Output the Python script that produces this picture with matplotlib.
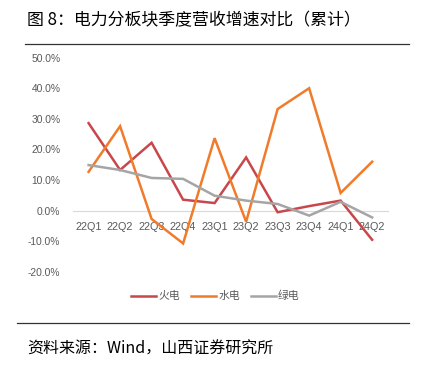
import matplotlib
matplotlib.use("Agg")
import matplotlib.pyplot as plt
from matplotlib.lines import Line2D

plt.rcParams['font.family'] = ['Noto Sans CJK SC', 'DejaVu Sans']

quarters = ["22Q1", "22Q2", "22Q3", "22Q4", "23Q1", "23Q2", "23Q3", "23Q4", "24Q1", "24Q2"]
thermal = [28.6, 13.3, 22.2, 3.6, 2.5, 17.4, -0.5, 1.5, 3.3, -9.5]
hydro = [12.7, 27.6, -2.7, -10.7, 23.7, -3.6, 33.2, 40.0, 5.8, 16.0]
green = [14.9, 13.3, 10.7, 10.4, 4.9, 3.3, 2.2, -1.6, 2.9, -2.2]
series_names = ["火电", "水电", "绿电"]
colors = ["#C8474B", "#F07B2B", "#A5A5A5"]
yticks = [-20, -10, 0, 10, 20, 30, 40, 50]

fig = plt.figure(figsize=(4.31, 3.67), dpi=100)
ax = fig.add_axes([0.169, 0.259, 0.731, 0.584])

for s in ['top', 'right', 'left']:
    ax.spines[s].set_visible(False)
ax.spines['bottom'].set_position(('data', 0))
ax.spines['bottom'].set_color('#D9D9D9')
ax.spines['bottom'].set_linewidth(0.8)
ax.spines['bottom'].set_zorder(0)

x = list(range(len(quarters)))
for vals, name, c in zip([thermal, hydro, green], series_names, colors):
    ax.plot(x, vals, color=c, lw=1.8, label=name, solid_joinstyle='miter')

tick_font = ['Liberation Sans', 'DejaVu Sans']
ax.set_xlim(-0.5, 9.5)
ax.set_ylim(-20, 50)
ax.set_yticks(yticks)
ax.set_yticklabels([f"{v:.1f}%" for v in yticks], color="#595959", fontsize=7.4, family=tick_font)
ax.tick_params(axis='y', length=0, pad=9)
ax.set_xticks(x)
ax.set_xticklabels(quarters, color="#595959", fontsize=7.8, family=tick_font)
ax.tick_params(axis='x', length=0, pad=8)

handles = [Line2D([0], [0], color=c, lw=1.8) for c in colors]
fig.legend(handles, series_names, loc='center', bbox_to_anchor=(0.5, 0.193), ncol=3,
           frameon=False, fontsize=7.8, handlelength=2.3, handletextpad=0.2, columnspacing=1.0,
           labelcolor="#595959")

fig.text(27 / 431, 1 - 20 / 367, "图 8：电力分板块季度营收增速对比（累计）", fontsize=12.2, va='center', ha='left', color='black')
fig.add_artist(Line2D([25 / 431, 409 / 431], [1 - 44 / 367, 1 - 44 / 367], color='#333333', lw=0.9))
fig.add_artist(Line2D([17 / 431, 409 / 431], [1 - 323 / 367, 1 - 323 / 367], color='#333333', lw=0.9))
fig.text(27 / 431, 1 - 349 / 367, "资料来源：Wind，山西证券研究所", fontsize=11.5, va='center', ha='left', color='black')

fig.savefig("out.png", dpi=100)
